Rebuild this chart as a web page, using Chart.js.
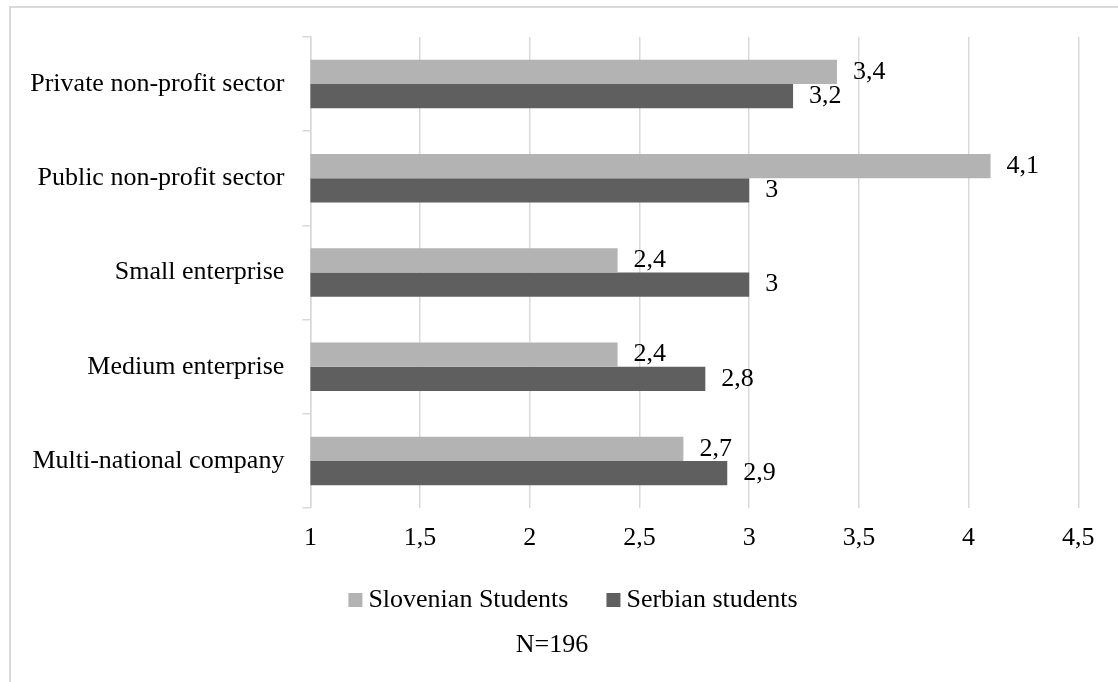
<!DOCTYPE html>
<html>
<head>
<meta charset="utf-8">
<title>Preferred employers</title>
<script src="https://cdn.jsdelivr.net/npm/chart.js@4/dist/chart.umd.min.js"></script>
<style>
  html, body { margin: 0; padding: 0; background: #ffffff; }
  body { width: 1118px; height: 682px; position: relative; overflow: hidden; }
  #frame {
    position: absolute; left: 9px; top: 6px; width: 1200px; height: 800px;
    border-left: 2px solid #d9d9d9; border-top: 2px solid #d9d9d9;
  }
  #wrap { position: absolute; left: 0; top: 0; width: 1118px; height: 682px; }
</style>
</head>
<body>
<div id="frame"></div>
<div id="wrap"><canvas id="chart" width="1118" height="682"></canvas></div>
<script>
// Sector categories, top to bottom
const categories = [
  'Private non-profit sector',
  'Public non-profit sector',
  'Small enterprise',
  'Medium enterprise',
  'Multi-national company'
];

// Mean ratings per student group
const slovenianValues = [3.4, 4.1, 2.4, 2.4, 2.7];
const serbianValues = [3.2, 3.0, 3.0, 2.8, 2.9];

const seriesNames = ['Slovenian Students', 'Serbian students'];
const sampleNote = 'N=196';

// Value axis range
const axisMin = 1;
const axisMax = 4.5;
const axisStep = 0.5;

const FONT = 'Liberation Serif';
const FONT_CSS = '26px "' + FONT + '"';
const TEXT = '#000000';
const LINE = '#d9d9d9';

const fmt = v => String(v).replace('.', ',');

// Value labels to the right of each bar end
const barValueLabels = {
  id: 'barValueLabels',
  afterDatasetsDraw(chart) {
    const ctx = chart.ctx;
    ctx.save();
    ctx.font = FONT_CSS;
    ctx.fillStyle = TEXT;
    ctx.textAlign = 'left';
    ctx.textBaseline = 'middle';
    chart.data.datasets.forEach((ds, i) => {
      const meta = chart.getDatasetMeta(i);
      meta.data.forEach((bar, j) => {
        ctx.fillText(fmt(ds.data[j]), bar.x + 16, bar.y);
      });
    });
    ctx.restore();
  }
};

// Compact legend row (square swatch close to its text) and the sample-size note below it
const legendAndNote = {
  id: 'legendAndNote',
  afterDraw(chart) {
    const ctx = chart.ctx;
    const box = 14, gap = 6, spacing = 38;
    const centerX = 573, rowY = 600;
    ctx.save();
    ctx.font = FONT_CSS;
    ctx.textBaseline = 'middle';
    ctx.textAlign = 'left';
    const items = chart.data.datasets.map(ds => ({
      text: ds.label,
      color: ds.backgroundColor,
      w: box + gap + ctx.measureText(ds.label).width
    }));
    const total = items.reduce((s, it) => s + it.w, 0) + spacing * (items.length - 1);
    let x = centerX - total / 2;
    items.forEach(it => {
      ctx.fillStyle = it.color;
      ctx.fillRect(x, rowY - box / 2, box, box);
      ctx.fillStyle = TEXT;
      ctx.fillText(it.text, x + box + gap, rowY);
      x += it.w + spacing;
    });
    ctx.textAlign = 'center';
    ctx.fillText(sampleNote, 552, 645);
    ctx.restore();
  }
};

new Chart(document.getElementById('chart'), {
  type: 'bar',
  data: {
    labels: categories,
    datasets: [
      { label: seriesNames[0], data: slovenianValues, backgroundColor: '#b3b3b3', borderWidth: 0 },
      { label: seriesNames[1], data: serbianValues, backgroundColor: '#5f5f5f', borderWidth: 0 }
    ]
  },
  options: {
    indexAxis: 'y',
    responsive: false,
    animation: false,
    devicePixelRatio: 1,
    datasets: { bar: { categoryPercentage: 0.515, barPercentage: 1.0 } },
    layout: { padding: { left: 10.4, right: 39.7, top: 37, bottom: 114 } },
    scales: {
      x: {
        type: 'linear',
        min: axisMin,
        max: axisMax,
        ticks: {
          stepSize: axisStep,
          color: TEXT,
          font: { family: FONT, size: 26 },
          padding: 15,
          callback: v => fmt(v)
        },
        grid: { color: LINE, lineWidth: 1.5, drawTicks: false },
        border: { display: false },
        afterFit: s => { s.height = 60; }
      },
      y: {
        ticks: {
          color: TEXT,
          font: { family: FONT, size: 26 },
          padding: 18
        },
        grid: { drawOnChartArea: false, drawTicks: true, tickLength: 8, color: LINE, lineWidth: 1.5, offset: true },
        border: { display: true, color: LINE, width: 1.5 },
        afterFit: s => { s.width = 300; }
      }
    },
    plugins: {
      legend: { display: false },
      title: { display: false },
      tooltip: { enabled: false }
    }
  },
  plugins: [barValueLabels, legendAndNote]
});
</script>
</body>
</html>
